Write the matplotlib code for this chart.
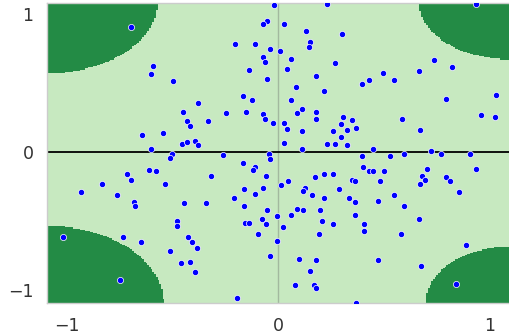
import numpy as np
import matplotlib
matplotlib.use("Agg")
import matplotlib.pyplot as plt
from matplotlib.colors import ListedColormap

# sample points
xs = [-0.697, -0.592, -0.604, -0.019, -0.052, -0.072, -0.204, -0.110, -0.039, 0.008,
      -0.072, -0.064, -0.137, -0.052, -0.499, -0.165, -0.124, -0.380, 0.231, 0.027,
      0.133, 0.303, 0.152, 0.145, 0.060, 0.270, 0.040, 0.179, 0.494, 0.428,
      0.395, 0.548, 0.086, 0.218, 0.060, 0.934, 0.737, 0.823, 0.665, 1.032,
      0.795, -0.644, -0.546, -0.604, -0.611, -0.578, -0.716, -0.696, -0.833, -0.538,
      -0.934, -0.762, -0.684, -0.677, -0.453, -0.250, -0.151, -0.072, -0.064, -0.025,
      -0.433, -0.420, -0.334, -0.455, -0.432, -0.393, -0.379, -0.505, -0.511, -0.262,
      -0.045, -0.039, -0.165, -0.109, -0.118, -0.321, -0.058, -0.164, -0.071, -0.110,
      -0.210, -0.447, -0.341, 0.014, 0.087, 0.113, 0.179, 0.179, 0.027, 0.041,
      0.112, 0.304, 0.350, 0.297, 0.257, 0.324, 0.369, 0.297, 0.027, 0.231,
      0.270, 0.324, 0.112, 0.449, 0.396, 0.529, 0.402, 0.429, 0.449, 0.501,
      0.218, 0.258, 0.172, 0.350, 0.364, 0.482, 0.047, 0.126, 0.115, 0.289,
      0.160, 0.218, 0.336, 0.363, 0.473, 0.548, 0.961, 1.026, 0.586, 0.671,
      0.724, 0.594, 0.770, 0.909, 0.704, 0.935, 0.679, 0.693, 0.671, 0.796,
      0.811, 0.856, 0.593, -0.164, -0.480, -0.480, -0.158, -0.137, -0.094, -1.018,
      -0.735, -0.650, -0.428, -0.407, -0.386, -0.513, -0.459, -0.420, -0.393, -0.748,
      -0.197, -0.052, 0.118, 0.087, 0.199, 0.060, -0.077, -0.005, -0.058, 0.021,
      0.205, 0.258, 0.363, 0.407, 0.407, 0.193, 0.665, 0.580, -0.005, -0.039,
      0.099, 0.179, 0.152, 0.473, 0.677, 0.889, 0.079, 0.170, 0.179, 0.843,
      0.368]
ys = [0.904, 0.622, 0.562, 1.064, 0.944, 0.924, 0.783, 0.783, 0.743, 0.733,
      0.683, 0.651, 0.593, 0.530, 0.512, 0.401, 0.372, 0.350, 1.073, 0.924,
      0.873, 0.854, 0.794, 0.762, 0.672, 0.642, 0.601, 0.551, 0.572, 0.520,
      0.491, 0.520, 0.470, 0.441, 0.372, 1.071, 0.663, 0.612, 0.582, 0.409,
      0.380, 0.120, 0.138, 0.017, -0.132, -0.143, -0.163, -0.204, -0.233, -0.233,
      -0.293, -0.313, -0.362, -0.395, 0.290, 0.279, 0.290, 0.270, 0.239, 0.210,
      0.221, 0.189, 0.220, 0.058, 0.069, 0.078, 0.047, -0.014, -0.045, -0.023,
      -0.014, -0.050, -0.081, -0.109, -0.132, -0.174, -0.173, -0.273, -0.264, -0.304,
      -0.335, -0.373, -0.373, -0.243, 0.279, 0.309, 0.291, 0.240, 0.210, 0.167,
      0.149, 0.250, 0.229, 0.199, 0.149, 0.158, 0.169, 0.109, 0.067, 0.058,
      0.058, 0.047, 0.018, 0.018, -0.033, -0.033, -0.112, -0.141, -0.141, -0.141,
      -0.163, -0.163, -0.184, -0.203, -0.214, -0.214, -0.213, -0.264, -0.284, -0.273,
      -0.314, -0.335, -0.333, -0.364, -0.354, -0.314, 0.269, 0.250, 0.239, 0.158,
      0.008, -0.014, -0.014, -0.014, -0.122, -0.122, -0.173, -0.202, -0.233, -0.183,
      -0.214, -0.293, -0.393, -0.395, -0.504, -0.538, -0.514, -0.514, -0.596, -0.617,
      -0.617, -0.656, -0.617, -0.656, -0.697, -0.717, -0.808, -0.799, -0.869, -0.929,
      -1.059, -0.424, -0.424, -0.414, -0.424, -0.456, -0.485, -0.465, -0.525, -0.545,
      -0.504, -0.525, -0.456, -0.525, -0.576, -0.596, -0.485, -0.596, -0.646, -0.757,
      -0.777, -0.786, -0.866, -0.786, -0.828, -0.675, -0.967, -0.967, -0.987, -0.958,
      -1.096]

# dark corner regions: (centre x, centre y, radius x, radius y)
corners = [(-1.093, 1.08, 0.52, 0.51),
           (1.097, 1.08, 0.43, 0.41),
           (-1.093, -1.098, 0.55, 0.56),
           (1.097, -1.098, 0.40, 0.41)]

fig = plt.figure(figsize=(5.1, 3.34), dpi=100)
ax = fig.add_axes([0.0931, 0.0919, 0.9069, 0.90])

gx = np.arange(-1.12, 1.125, 0.008)
gy = np.arange(-1.12, 1.105, 0.008)
xx, yy = np.meshgrid(gx, gy)
zz = np.zeros_like(xx)
for cx, cy, rx, ry in corners:
    zz[((xx - cx) / rx) ** 2 + ((yy - cy) / ry) ** 2 < 1] = 1
ax.pcolormesh(xx, yy, zz, cmap=ListedColormap(['#c7e9c0', '#238b45']),
              shading='auto', zorder=0)

ax.axvline(0, color='#8a9a88', lw=1, alpha=0.6, zorder=1)
ax.axhline(0, color='black', lw=1.3, zorder=2)
ax.scatter(xs, ys, s=20, c='blue', edgecolors='white', linewidths=0.5, zorder=3)

ax.set_xlim(-1.093, 1.097)
ax.set_ylim(-1.098, 1.08)
ax.set_xticks([-1, 0, 1])
ax.set_yticks([-1, 0, 1])
ax.tick_params(length=0, pad=10, labelsize=12.5, labelcolor='#333333')
for sp in ax.spines.values():
    sp.set_color('#cccccc')
    sp.set_linewidth(1)

fig.savefig('out.png', dpi=100)
